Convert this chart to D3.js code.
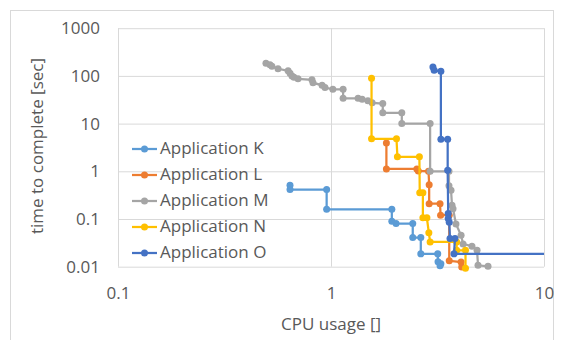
<!DOCTYPE html>
<html>
<head>
<meta charset="utf-8">
<script src="https://cdn.jsdelivr.net/npm/d3@7"></script>
<style>
  body { margin: 0; background: #fff; }
  svg { display: block; font-family: "Open Sans", sans-serif; }
</style>
</head>
<body>
<svg id="chart" width="563" height="340"></svg>
<script>
// values (x = CPU usage, y = time to complete [sec])
const cpuK  = [0.642, 0.642, 0.954, 0.954, 1.93, 1.93, 2.02, 2.42, 2.42, 2.64, 2.64, 3.17, 3.18, 3.28, 3.25];
const timeK = [0.509, 0.413, 0.413, 0.160, 0.160, 0.0895, 0.080, 0.080, 0.0407, 0.0407, 0.0186, 0.0186, 0.0127, 0.0115, 0.0105];

const cpuL  = [1.82, 1.82, 2.53, 2.57, 2.87, 2.89, 2.89, 3.25, 3.27, 3.59, 3.59, 4.08, 4.11];
const timeL = [3.92, 1.12, 1.12, 1.02, 1.0, 0.521, 0.210, 0.210, 0.120, 0.120, 0.0133, 0.0125, 0.0099];

const cpuM  = [0.495, 0.517, 0.528, 0.564, 0.629, 0.642, 0.656, 0.670, 0.700, 0.814, 0.823, 0.908, 0.937, 1.02, 1.14, 1.14, 1.34, 1.40, 1.49, 1.56, 1.75, 1.75, 2.15, 2.15, 2.92, 2.92, 3.58, 3.58, 3.66, 3.70, 3.74, 3.86, 4.08, 4.17, 4.59, 4.85, 4.90, 5.46];
const timeM = [184, 171, 159, 141, 128, 113, 100, 93.5, 87, 83, 72, 63.5, 57, 52.4, 52.4, 33.9, 33.9, 32.3, 30.0, 27.3, 26.3, 16.8, 16.8, 10, 10, 1.0, 1.0, 0.497, 0.40, 0.194, 0.165, 0.079, 0.0455, 0.030, 0.0268, 0.0221, 0.0107, 0.0102];

const cpuN  = [1.55, 1.55, 2.03, 2.05, 2.60, 2.61, 2.70, 2.70, 2.82, 2.88, 2.92, 3.89, 3.89, 4.28, 4.28];
const timeN = [89, 4.80, 4.80, 2.01, 2.01, 0.354, 0.354, 0.106, 0.106, 0.0514, 0.033, 0.033, 0.0221, 0.0221, 0.0093];

const cpuO  = [3.01, 3.05, 3.28, 3.28, 3.53, 3.53, 3.55, 3.55, 3.59, 3.62, 3.82, 3.78, 20];
const timeO = [154, 131, 125, 4.69, 4.69, 1.05, 0.130, 0.102, 0.085, 0.0388, 0.0388, 0.0186, 0.0186];

const seriesNames = ["Application K", "Application L", "Application M", "Application N", "Application O"];
const seriesColors = ["#5B9BD5", "#ED7D31", "#A5A5A5", "#FFC000", "#4472C4"];
const xTicks = [0.1, 1, 10];
const yTicks = [0.01, 0.1, 1, 10, 100, 1000];

const series = [[cpuK, timeK], [cpuL, timeL], [cpuM, timeM], [cpuN, timeN], [cpuO, timeO]]
  .map((s, i) => ({ name: seriesNames[i], color: seriesColors[i], pts: s[0].map((c, j) => [c, s[1][j]]) }));

const svg = d3.select("#chart");
const plotLeft = 118, plotRight = 544, plotTop = 28.2, plotBottom = 266.7;

const x = d3.scaleLog().domain([0.1, 10]).range([plotLeft, plotRight]);
const y = d3.scaleLog().domain([0.01, 1000]).range([plotBottom, plotTop]);

// outer chart border
svg.append("rect")
  .attr("x", 10.5).attr("y", 10.5).attr("width", 543).attr("height", 340)
  .attr("fill", "none").attr("stroke", "#d9d9d9");

// gridlines
svg.append("g")
  .attr("transform", "translate(" + plotLeft + ",0)")
  .call(d3.axisLeft(y).tickValues(yTicks).tickSize(-(plotRight - plotLeft)).tickFormat(""))
  .call(g => g.select(".domain").remove())
  .selectAll("line").attr("stroke", "#d9d9d9");

svg.append("g")
  .attr("transform", "translate(0," + plotBottom + ")")
  .call(d3.axisBottom(x).tickValues(xTicks).tickSize(-(plotBottom - plotTop)).tickFormat(""))
  .call(g => g.select(".domain").remove())
  .selectAll("line").attr("stroke", "#d9d9d9");

// tick labels
svg.append("g")
  .attr("transform", "translate(" + plotLeft + ",0)")
  .call(d3.axisLeft(y).tickValues(yTicks).tickSize(0).tickPadding(18).tickFormat(d => String(d)))
  .call(g => g.select(".domain").remove())
  .selectAll("text").attr("fill", "#595959").style("font-size", "17px").style("font-family", "Open Sans");

svg.append("g")
  .attr("transform", "translate(0," + plotBottom + ")")
  .call(d3.axisBottom(x).tickValues(xTicks).tickSize(0).tickPadding(20).tickFormat(d => String(d)))
  .call(g => g.select(".domain").remove())
  .selectAll("text").attr("fill", "#595959").style("font-size", "17px").style("font-family", "Open Sans");

// axis titles
svg.append("text")
  .attr("x", (plotLeft + plotRight) / 2).attr("y", 325)
  .attr("text-anchor", "middle").attr("dominant-baseline", "middle")
  .attr("fill", "#595959").style("font-size", "17px")
  .text("CPU usage []");

svg.append("text")
  .attr("transform", "translate(38,146) rotate(-90)")
  .attr("text-anchor", "middle").attr("dominant-baseline", "middle")
  .attr("fill", "#595959").style("font-size", "17px")
  .text("time to complete [sec]");

// series
svg.append("clipPath").attr("id", "plotclip")
  .append("rect").attr("x", plotLeft).attr("y", plotTop - 10).attr("width", plotRight - plotLeft).attr("height", plotBottom - plotTop + 20);

const line = d3.line().x(d => x(d[0])).y(d => y(d[1]));
const plot = svg.append("g").attr("clip-path", "url(#plotclip)");

series.forEach(s => {
  const g = plot.append("g");
  g.append("path")
    .attr("d", line(s.pts))
    .attr("fill", "none").attr("stroke", s.color).attr("stroke-width", 2.25);
  g.selectAll("circle")
    .data(s.pts.filter(d => d[0] <= 10))
    .enter().append("circle")
    .attr("cx", d => x(d[0])).attr("cy", d => y(d[1])).attr("r", 3.5)
    .attr("fill", s.color);
});

// legend
const legend = svg.append("g").selectAll("g")
  .data(series)
  .enter().append("g")
  .attr("transform", (d, i) => "translate(0," + (149 + i * 26) + ")");

legend.append("line")
  .attr("x1", 132).attr("x2", 157)
  .attr("stroke", d => d.color).attr("stroke-width", 2.25);
legend.append("circle")
  .attr("cx", 144.5).attr("r", 3.5).attr("fill", d => d.color);
legend.append("text")
  .attr("x", 160).attr("dominant-baseline", "middle")
  .attr("fill", "#595959").style("font-size", "17px")
  .text(d => d.name);
</script>
</body>
</html>
